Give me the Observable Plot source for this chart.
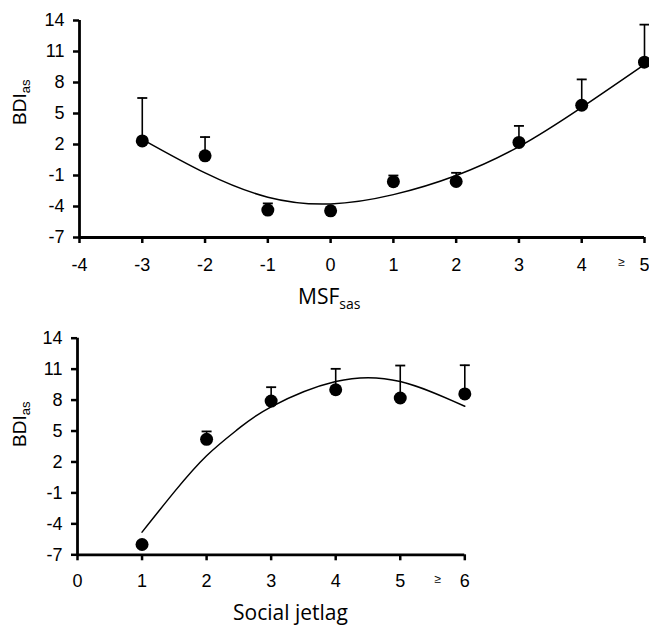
<!DOCTYPE html>
<html>
<head>
<meta charset="utf-8">
<script src="https://cdn.jsdelivr.net/npm/d3@7"></script>
<script src="https://cdn.jsdelivr.net/npm/@observablehq/plot@0.6"></script>
<style>
  body { margin: 0; background: #fff; }
  #chart { position: relative; width: 649px; height: 629px; overflow: hidden; background: #fff; }
  #chart svg { position: absolute; left: 0; display: block; }
</style>
</head>
<body>
<div id="chart"></div>
<script>
// ---- Top panel: BDI_as vs MSF_sas ----
const topX = [-3, -2, -1, 0, 1, 2, 3, 4, 5];
const topMean = [2.35, 0.9, -4.35, -4.42, -1.6, -1.58, 2.2, 5.8, 9.97];
const topErr = [6.5, 2.72, -3.7, null, -1.0, -0.74, 3.8, 8.3, 13.6];
const topCurveX = [-3, -2, -1, 0, 1, 2, 3, 4, 5];
const topCurveY = [2.5, -0.75, -3.1, -3.75, -2.85, -1.0, 1.8, 5.6, 9.75];
const topXTicks = [-4, -3, -2, -1, 0, 1, 2, 3, 4, 5];

// ---- Bottom panel: BDI_as vs Social jetlag ----
const botX = [1, 2, 3, 4, 5, 6];
const botMean = [-6.0, 4.2, 7.9, 9.0, 8.2, 8.6];
const botErr = [null, 4.96, 9.25, 11.03, 11.35, 11.38];
const botCurveX = [1, 1.5, 2, 2.5, 3, 4, 5, 6];
const botCurveY = [-4.8, -0.9, 2.6, 5.25, 7.35, 9.8, 9.8, 7.4];
const botXTicks = [0, 1, 2, 3, 4, 5, 6];

const yTicks = [-7, -4, -1, 2, 5, 8, 11, 14];

const topData = topX.map((x, i) => ({x, mean: topMean[i], err: topErr[i]}));
const topCurve = topCurveX.map((x, i) => ({x, y: topCurveY[i]}));
const botData = botX.map((x, i) => ({x, mean: botMean[i], err: botErr[i]}));
const botCurve = botCurveX.map((x, i) => ({x, y: botCurveY[i]}));

const capSymbol = { draw(ctx) { ctx.moveTo(-5, 0); ctx.lineTo(5, 0); } };
const tickFont = "Liberation Sans, Arial, sans-serif";
const labelFont = "Open Sans, sans-serif";

function panel({data, curve, xDomain, xTicks, geX, geDx, width, height, margins, tickPad}) {
  const withErr = data.filter(d => d.err != null);
  return Plot.plot({
    width, height,
    marginLeft: margins[0], marginRight: margins[1], marginTop: margins[2], marginBottom: margins[3],
    style: {fontFamily: tickFont, fontSize: "18px", color: "black", background: "white"},
    x: {domain: xDomain},
    y: {domain: [-7, 14]},
    marks: [
      Plot.ruleX(withErr, {x: "x", y1: "mean", y2: "err", stroke: "black", strokeWidth: 1.6}),
      Plot.dot(withErr, {x: "x", y: "err", symbol: capSymbol, stroke: "black", strokeWidth: 1.8, fill: "none"}),
      Plot.line(curve, {x: "x", y: "y", curve: "natural", stroke: "black", strokeWidth: 1.5}),
      Plot.dot(data, {x: "x", y: "mean", r: 6.5, fill: "black", stroke: "none"}),
      Plot.axisY(yTicks, {tickSize: 6, tickPadding: 9, strokeWidth: 2.5, fontSize: 18, label: null, tickFormat: d => String(d)}),
      Plot.axisX(xTicks, {anchor: "bottom", tickSize: 6, tickPadding: tickPad, strokeWidth: 2.5, fontSize: 18, label: null, tickFormat: d => String(d)}),
      Plot.ruleX([xDomain[0]], {stroke: "black", strokeWidth: 2.8}),
      Plot.ruleY([-7], {stroke: "black", strokeWidth: 2.8}),
      Plot.text([{x: geX, t: "\u2265"}], {x: "x", text: "t", frameAnchor: "bottom", dx: geDx, dy: 28, fontSize: 12, fill: "black"})
    ]
  });
}

const chart = document.getElementById("chart");

const topSvg = panel({
  data: topData, curve: topCurve, xDomain: [-4, 5], xTicks: topXTicks, geX: 5, geDx: -23,
  width: 649, height: 320, margins: [79, 5, 20, 83], tickPad: 15
});
topSvg.style.top = "0px";
chart.appendChild(topSvg);

const botSvg = panel({
  data: botData, curve: botCurve, xDomain: [0, 6], xTicks: botXTicks, geX: 6, geDx: -27,
  width: 649, height: 309, margins: [77, 184.7, 17.7, 74.7], tickPad: 13
});
botSvg.style.top = "320px";
chart.appendChild(botSvg);

function yLabel(svg, x, y) {
  const t = d3.select(svg).append("text")
    .attr("transform", `translate(${x},${y}) rotate(-90)`)
    .attr("text-anchor", "start")
    .attr("font-family", tickFont)
    .attr("font-size", 19)
    .attr("fill", "black");
  t.append("tspan").text("BDI");
  t.append("tspan").attr("font-size", 13).attr("dy", 4).text("as");
}
function xLabel(svg, x, y, main, sub) {
  const t = d3.select(svg).append("text")
    .attr("x", x).attr("y", y)
    .attr("text-anchor", "start")
    .attr("font-family", labelFont)
    .attr("font-size", 21)
    .attr("fill", "black");
  t.append("tspan").text(main);
  if (sub) t.append("tspan").attr("font-size", 14).attr("dy", 5).text(sub);
}

yLabel(topSvg, 26, 125);
yLabel(botSvg, 26, 127);
xLabel(topSvg, 298, 304, "MSF", "sas");
xLabel(botSvg, 233, 300, "Social jetlag", null);
</script>
</body>
</html>
